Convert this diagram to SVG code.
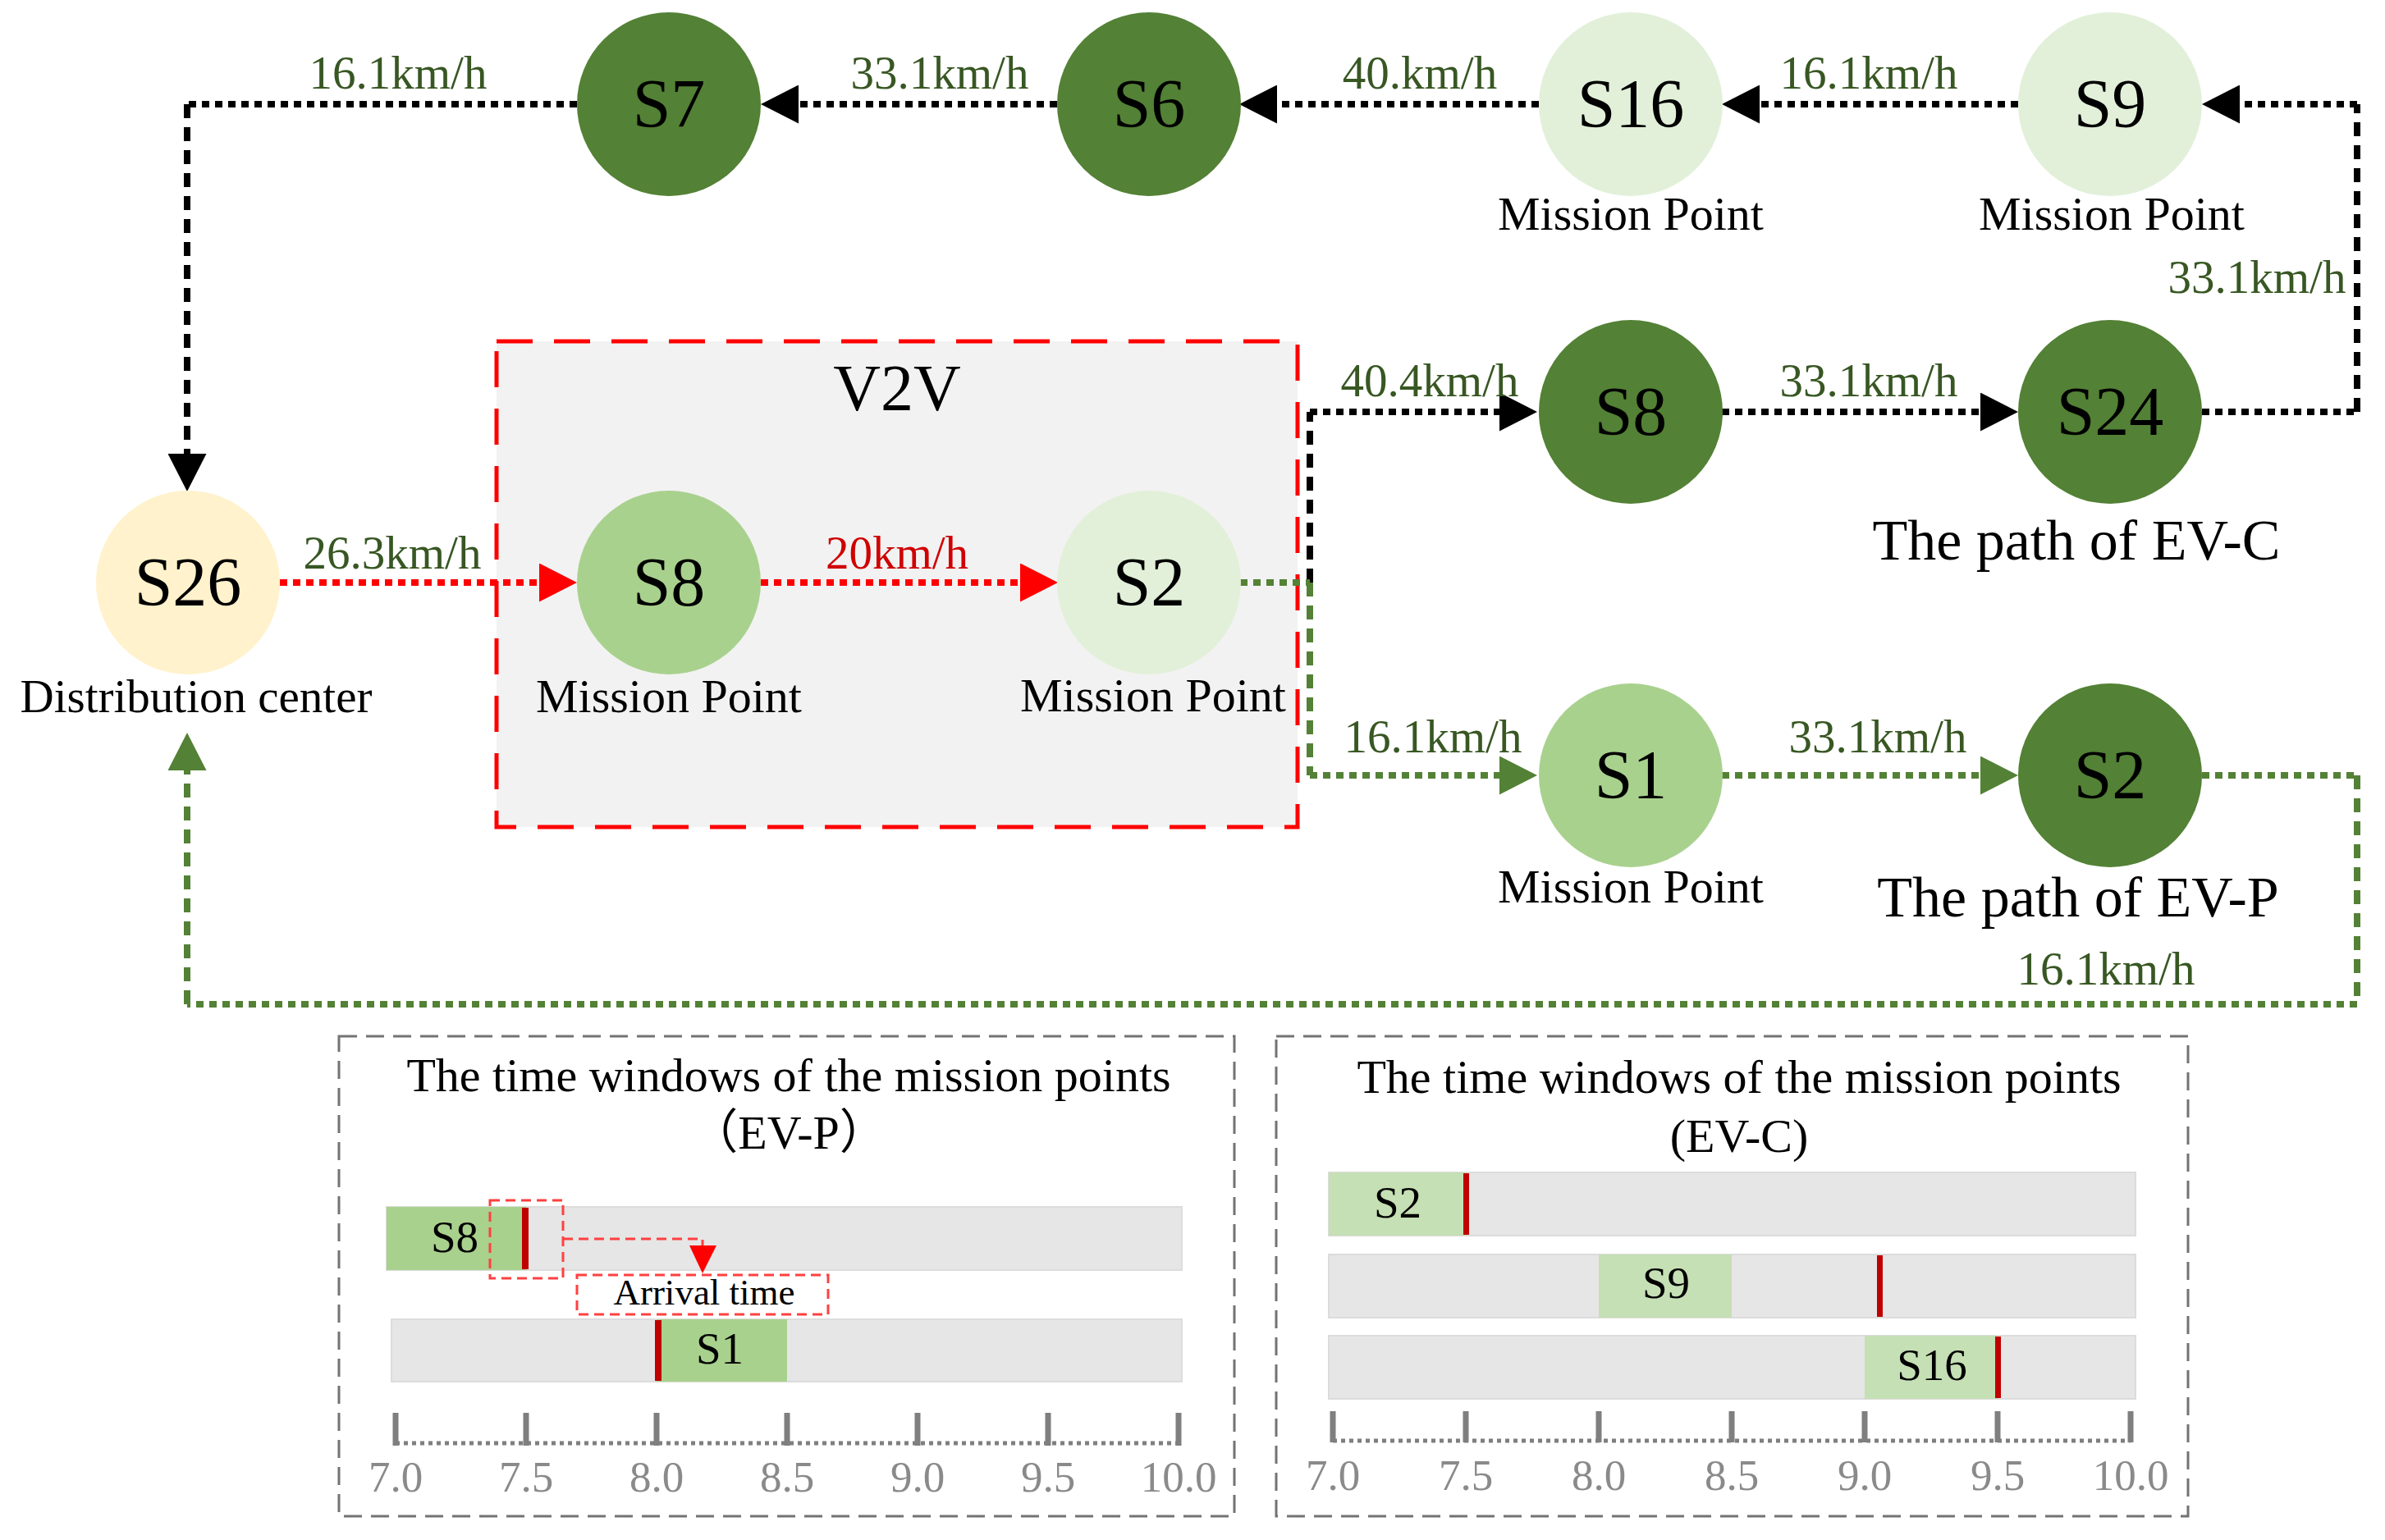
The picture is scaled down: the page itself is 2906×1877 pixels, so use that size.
<svg xmlns="http://www.w3.org/2000/svg" width="2906" height="1877" viewBox="0 0 2906 1877">
<style>
text{font-family:"Liberation Serif","Times New Roman",serif;}
.nt{font-size:84px;fill:#000;text-anchor:middle;}
.lb{font-size:58px;fill:#000;text-anchor:middle;}
.sp{font-size:57px;fill:#385723;text-anchor:middle;}
.spr{font-size:57px;fill:#D00000;text-anchor:middle;}
.ttl{font-size:58px;fill:#000;text-anchor:middle;}
.tk{font-size:53px;fill:#8A8A8A;text-anchor:middle;}
.hd{fill:none;stroke-width:8;stroke-dasharray:9 7;}
.vd{fill:none;stroke-width:8;stroke-dasharray:17 11;}
.blk{stroke:#000;}
.red{stroke:#FF0000;}
.grn{stroke:#538135;}
.dark{fill:#538135;}
.mid{fill:#A9D18E;}
.pale{fill:#E2F0D9;}
.bar{fill:#E6E6E6;stroke:#DCDCDC;stroke-width:2;}
.mk{fill:#C00000;}
.tick{stroke:#7F7F7F;stroke-width:7;}
.axis{stroke:#7F7F7F;stroke-width:5;stroke-dasharray:5 5;fill:none;}
.panel{fill:none;stroke:#737373;stroke-width:3;stroke-dasharray:22 11;}
</style>
<defs>
<marker id="arrB" markerUnits="userSpaceOnUse" markerWidth="46" markerHeight="47" viewBox="0 0 46 47" refX="0" refY="23.5" orient="auto"><path d="M0,0 L46,23.5 L0,47 z" fill="#000"/></marker>
<marker id="arrR" markerUnits="userSpaceOnUse" markerWidth="46" markerHeight="47" viewBox="0 0 46 47" refX="0" refY="23.5" orient="auto"><path d="M0,0 L46,23.5 L0,47 z" fill="#FF0000"/></marker>
<marker id="arrG" markerUnits="userSpaceOnUse" markerWidth="46" markerHeight="47" viewBox="0 0 46 47" refX="0" refY="23.5" orient="auto"><path d="M0,0 L46,23.5 L0,47 z" fill="#538135"/></marker>
</defs>
<rect width="2906" height="1877" fill="#fff"/>

<g id="v2v-box">
<rect x="605" y="416" width="976" height="592" fill="#F2F2F2" stroke="#FF0000" stroke-width="5" stroke-dasharray="44 26"/>
<text x="1093" y="500" class="nt" style="font-size:80px">V2V</text>
</g>

<g id="connectors">
<path class="hd blk" d="M2459,127 L2144,127" marker-end="url(#arrB)"/>
<path class="hd blk" d="M1875,127 L1556,127" marker-end="url(#arrB)"/>
<path class="hd blk" d="M1288,127 L973,127" marker-end="url(#arrB)"/>
<path class="hd blk" d="M703,127 L228,127"/>
<path class="vd blk" d="M228,127 L228,553" marker-end="url(#arrB)"/>
<path class="vd blk" d="M1596,710 L1596,502"/>
<path class="hd blk" d="M1596,502 L1827,502" marker-end="url(#arrB)"/>
<path class="hd blk" d="M2098,502 L2413,502" marker-end="url(#arrB)"/>
<path class="hd blk" d="M2683,502 L2872,502"/>
<path class="vd blk" d="M2872,502 L2872,127"/>
<path class="hd blk" d="M2872,127 L2729,127" marker-end="url(#arrB)"/>
<path class="hd red" d="M341,710 L657,710" marker-end="url(#arrR)"/>
<path class="hd red" d="M927,710 L1243,710" marker-end="url(#arrR)"/>
<path class="hd grn" d="M1511,710 L1596,710"/>
<path class="vd grn" d="M1596,710 L1596,945"/>
<path class="hd grn" d="M1596,945 L1827,945" marker-end="url(#arrG)"/>
<path class="hd grn" d="M2098,945 L2413,945" marker-end="url(#arrG)"/>
<path class="hd grn" d="M2683,945 L2872,945"/>
<path class="vd grn" d="M2872,945 L2872,1224"/>
<path class="hd grn" d="M2872,1224 L228,1224"/>
<path class="vd grn" d="M228,1224 L228,939" marker-end="url(#arrG)"/>
<text x="485" y="108" class="sp">16.1km/h</text>
<text x="1145" y="108" class="sp">33.1km/h</text>
<text x="1730" y="108" class="sp">40.km/h</text>
<text x="2277" y="108" class="sp">16.1km/h</text>
<text x="2750" y="357" class="sp">33.1km/h</text>
<text x="1742" y="483" class="sp">40.4km/h</text>
<text x="2277" y="483" class="sp">33.1km/h</text>
<text x="478" y="693" class="sp">26.3km/h</text>
<text x="1093" y="693" class="spr">20km/h</text>
<text x="1746" y="917" class="sp">16.1km/h</text>
<text x="2288" y="917" class="sp">33.1km/h</text>
<text x="2566" y="1200" class="sp">16.1km/h</text>
</g>

<g id="node-S7"><circle cx="815" cy="127" r="112" class="dark"/><text x="815" y="155" class="nt">S7</text></g>
<g id="node-S6"><circle cx="1400" cy="127" r="112" class="dark"/><text x="1400" y="155" class="nt">S6</text></g>
<g id="node-S16"><circle cx="1987" cy="127" r="112" class="pale"/><text x="1987" y="155" class="nt">S16</text><text x="1987" y="280" class="lb">Mission Point</text></g>
<g id="node-S9"><circle cx="2571" cy="127" r="112" class="pale"/><text x="2571" y="155" class="nt">S9</text><text x="2573" y="280" class="lb">Mission Point</text></g>
<g id="node-S8c"><circle cx="1987" cy="502" r="112" class="dark"/><text x="1987" y="530" class="nt">S8</text></g>
<g id="node-S24"><circle cx="2571" cy="502" r="112" class="dark"/><text x="2571" y="530" class="nt">S24</text><text x="2530" y="682" class="lb" style="font-size:70px">The path of EV-C</text></g>
<g id="node-S26"><circle cx="229" cy="710" r="112" fill="#FFF2CC"/><text x="229" y="738" class="nt">S26</text><text x="239" y="868" class="lb" style="font-size:57px">Distribution center</text></g>
<g id="node-S8"><circle cx="815" cy="710" r="112" class="mid"/><text x="815" y="738" class="nt">S8</text><text x="815" y="868" class="lb">Mission Point</text></g>
<g id="node-S2"><circle cx="1400" cy="710" r="112" class="pale"/><text x="1400" y="738" class="nt">S2</text><text x="1405" y="867" class="lb">Mission Point</text></g>
<g id="node-S1"><circle cx="1987" cy="945" r="112" class="mid"/><text x="1987" y="973" class="nt">S1</text><text x="1987" y="1100" class="lb">Mission Point</text></g>
<g id="node-S2p"><circle cx="2571" cy="945" r="112" class="dark"/><text x="2571" y="973" class="nt">S2</text><text x="2532" y="1117" class="lb" style="font-size:70px">The path of EV-P</text></g>

<g id="panel-evp">
<rect x="413" y="1263" width="1091" height="585" class="panel"/>
<text x="961" y="1330" class="ttl">The time windows of the mission points</text>
<text x="961" y="1400" class="ttl" style="font-family:'Liberation Serif','Noto Sans CJK SC',serif">（EV-P）</text>
<rect x="471" y="1471" width="969" height="77" class="bar"/>
<rect x="471" y="1471" width="170" height="77" class="mid"/>
<rect x="636" y="1472" width="8" height="75" class="mk"/>
<text x="554" y="1526" class="nt" style="font-size:55px">S8</text>
<rect x="597" y="1463" width="89" height="95" fill="none" stroke="#FF4040" stroke-width="3" stroke-dasharray="12 7"/>
<path d="M686,1510 L856,1510 L856,1520" fill="none" stroke="#FF4040" stroke-width="3" stroke-dasharray="12 7"/>
<path d="M840,1518 L873,1518 L856,1552 z" fill="#FF0000"/>
<rect x="703" y="1554" width="306" height="48" fill="#fff" stroke="#FF4040" stroke-width="3" stroke-dasharray="12 7"/>
<text x="858" y="1590" class="nt" style="font-size:45px">Arrival time</text>
<rect x="477" y="1608" width="963" height="76" class="bar"/>
<rect x="800" y="1608" width="159" height="76" class="mid"/>
<rect x="798" y="1609" width="8" height="74" class="mk"/>
<text x="877" y="1662" class="nt" style="font-size:55px">S1</text>
<path class="axis" d="M482,1759 L1436,1759"/>
<path class="tick" d="M482,1722 V1762 M641,1722 V1762 M800,1722 V1762 M959,1722 V1762 M1118,1722 V1762 M1277,1722 V1762 M1436,1722 V1762"/>
<text x="482" y="1818" class="tk">7.0</text>
<text x="641" y="1818" class="tk">7.5</text>
<text x="800" y="1818" class="tk">8.0</text>
<text x="959" y="1818" class="tk">8.5</text>
<text x="1118" y="1818" class="tk">9.0</text>
<text x="1277" y="1818" class="tk">9.5</text>
<text x="1436" y="1818" class="tk">10.0</text>
</g>

<g id="panel-evc">
<rect x="1555" y="1263" width="1111" height="585" class="panel"/>
<text x="2119" y="1332" class="ttl">The time windows of the mission points</text>
<text x="2119" y="1404" class="ttl">(EV-C)</text>
<rect x="1619" y="1429" width="983" height="77" class="bar"/>
<rect x="1619" y="1429" width="167" height="77" fill="#C5E0B4"/>
<rect x="1783" y="1430" width="7" height="75" class="mk"/>
<text x="1703" y="1484" class="nt" style="font-size:55px">S2</text>
<rect x="1619" y="1529" width="983" height="77" class="bar"/>
<rect x="1948" y="1529" width="162" height="77" fill="#C5E0B4"/>
<rect x="2287" y="1530" width="7" height="75" class="mk"/>
<text x="2030" y="1582" class="nt" style="font-size:55px">S9</text>
<rect x="1619" y="1628" width="983" height="77" class="bar"/>
<rect x="2272" y="1628" width="162" height="77" fill="#C5E0B4"/>
<rect x="2431" y="1629" width="7" height="75" class="mk"/>
<text x="2354" y="1682" class="nt" style="font-size:55px">S16</text>
<path class="axis" d="M1624,1756 L2596,1756"/>
<path class="tick" d="M1624,1720 V1758 M1786,1720 V1758 M1948,1720 V1758 M2110,1720 V1758 M2272,1720 V1758 M2434,1720 V1758 M2596,1720 V1758"/>
<text x="1624" y="1816" class="tk">7.0</text>
<text x="1786" y="1816" class="tk">7.5</text>
<text x="1948" y="1816" class="tk">8.0</text>
<text x="2110" y="1816" class="tk">8.5</text>
<text x="2272" y="1816" class="tk">9.0</text>
<text x="2434" y="1816" class="tk">9.5</text>
<text x="2596" y="1816" class="tk">10.0</text>
</g>
</svg>
